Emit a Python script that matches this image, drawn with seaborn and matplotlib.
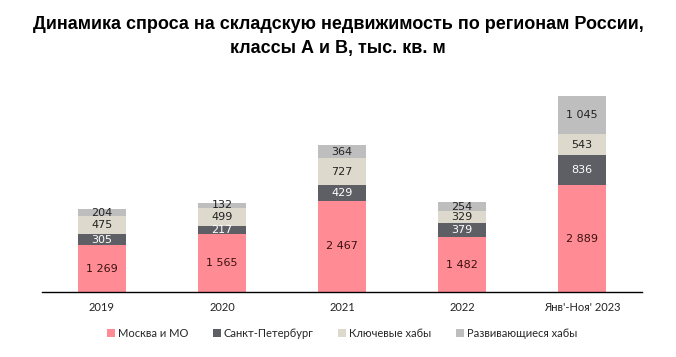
import matplotlib.pyplot as plt
import seaborn as sns
import pandas as pd
import numpy as np

periods = ["2019", "2020", "2021", "2022", "Янв'-Ноя' 2023"]
series_names = ["Москва и МО", "Санкт-Петербург", "Ключевые хабы", "Развивающиеся хабы"]
moscow = [1269, 1565, 2467, 1482, 2889]
spb = [305, 217, 429, 379, 836]
key_hubs = [475, 499, 727, 329, 543]
developing = [204, 132, 364, 254, 1045]

colors = ["#FF8C94", "#5E5F64", "#DDD9CD", "#BEBEBE"]
label_colors = ["#3a1010", "white", "#222222", "#222222"]

sns.set_theme(style="white")
plt.rcParams['font.family'] = ['Lato', 'DejaVu Sans']

values = np.array([moscow, spb, key_hubs, developing])
bottoms = np.vstack([np.zeros(len(periods)), np.cumsum(values, axis=0)[:-1]])
tops = np.cumsum(values, axis=0)

fig = plt.figure(figsize=(6.76, 3.57), dpi=100)
ax = fig.add_axes([0.062, 0.182, 0.888, 0.61])

# stacked bars: draw the cumulative totals from the top layer down
for i in reversed(range(len(series_names))):
    df = pd.DataFrame({"period": periods, "value": tops[i]})
    sns.barplot(data=df, x="period", y="value", color=colors[i], width=0.4,
                saturation=1, ax=ax, label=series_names[i], linewidth=0)

for i in range(len(series_names)):
    for j in range(len(periods)):
        v = values[i, j]
        ax.text(j, bottoms[i, j] + v / 2, f"{v:,}".replace(",", " "),
                ha="center", va="center", fontsize=8, color=label_colors[i],
                family="DejaVu Sans")

ax.set_xlim(-0.5, 4.5)
ax.set_ylim(0, 5900)
ax.set_yticks([])
ax.set_xlabel("")
ax.set_ylabel("")
for s in ["top", "right", "left"]:
    ax.spines[s].set_visible(False)
ax.spines["bottom"].set_color("black")
ax.spines["bottom"].set_linewidth(1)
ax.tick_params(axis="x", length=0, labelsize=8, colors="#222222", pad=7)

handles, labels = ax.get_legend_handles_labels()
order = [labels.index(n) for n in series_names]
ax.legend([handles[k] for k in order], series_names, loc="upper center",
          bbox_to_anchor=(0.5, -0.12), ncol=4, frameon=False, fontsize=8,
          handlelength=0.7, handleheight=0.7, handletextpad=0.3, columnspacing=2.2)

fig.suptitle("Динамика спроса на складскую недвижимость по регионам России,\nклассы А и B, тыс. кв. м",
             fontsize=13, fontweight="bold", y=0.955, linespacing=1.55, color="black",
             family=["Liberation Sans Narrow", "Liberation Sans", "DejaVu Sans"])

fig.savefig("out.png", dpi=100)
